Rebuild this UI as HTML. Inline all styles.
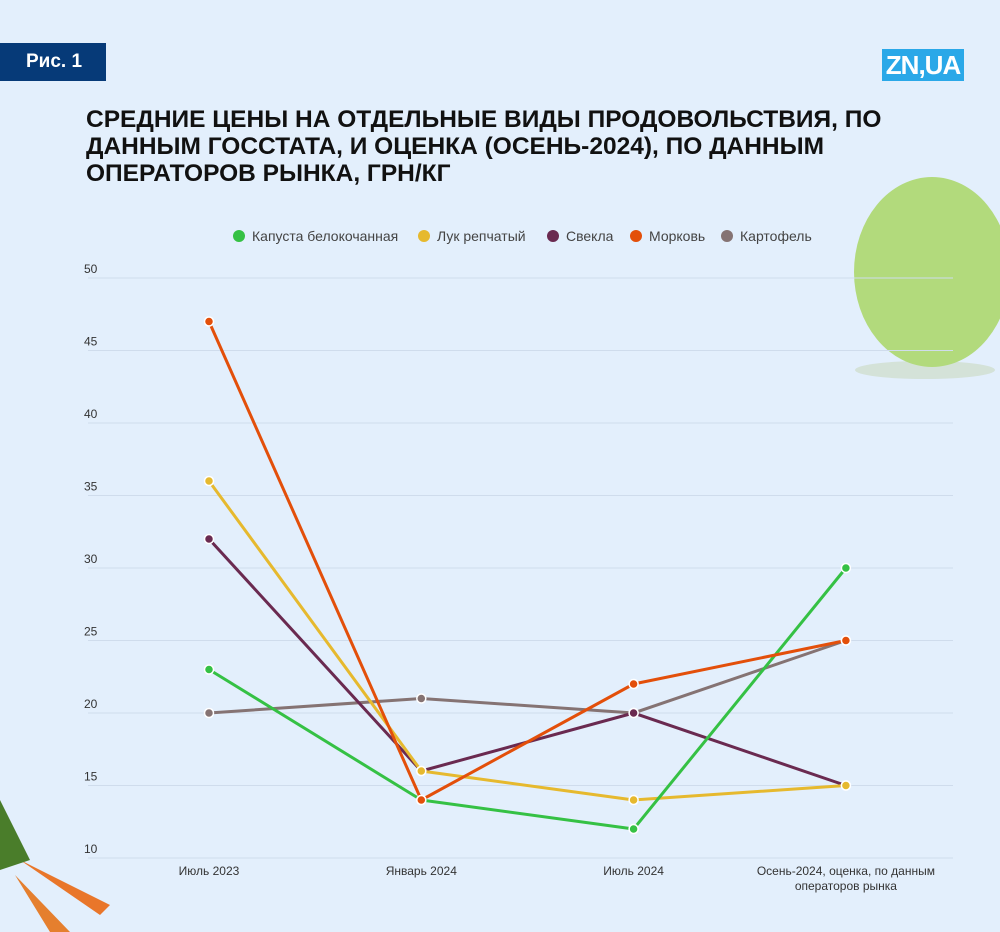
<!DOCTYPE html>
<html><head><meta charset="utf-8"><style>
body{margin:0;background:#e3effc;font-family:"Liberation Sans","DejaVu Sans",sans-serif;}
#wrap{position:relative;width:1000px;height:932px;overflow:hidden;background:#e3effc;}
.badge{position:absolute;left:0;top:43px;width:106px;height:38px;background:#063a78;color:#fff;font-weight:bold;font-size:19px;line-height:38px;padding-left:26px;box-sizing:border-box;}
.logo{position:absolute;left:882px;top:49px;width:82px;height:32px;background:#2aa8e8;color:#fff;font-weight:bold;font-size:26px;line-height:32px;text-align:center;letter-spacing:-1px;}
.title{position:absolute;left:86px;top:106px;width:830px;font-weight:bold;font-size:24.5px;line-height:27px;color:#111;}
</style></head><body>
<div id="wrap">
<div class="badge">Рис. 1</div>
<div class="logo">ZN,UA</div>
<div class="title">СРЕДНИЕ ЦЕНЫ НА ОТДЕЛЬНЫЕ ВИДЫ ПРОДОВОЛЬСТВИЯ, ПО ДАННЫМ ГОССТАТА, И ОЦЕНКА (ОСЕНЬ-2024), ПО ДАННЫМ ОПЕРАТОРОВ РЫНКА, ГРН/КГ</div>
<svg id="chart" width="1000" height="932" style="position:absolute;left:0;top:0">
<ellipse cx="925" cy="370" rx="70" ry="9" fill="#c9d8c0" opacity="0.6"/>
<ellipse cx="932" cy="272" rx="78" ry="95" fill="#b2da7c"/>
<g><path d="M20 860 L110 905 L100 915 Z" fill="#e9762a"/><path d="M15 875 L70 932 L50 932 Z" fill="#e57f2e"/><path d="M0 800 L30 860 L0 870 Z" fill="#4a7d2a"/></g>
</svg>
</div>
<script>
const categories=["Июль 2023","Январь 2024","Июль 2024","Осень-2024, оценка, по данным|операторов рынка"];
const seriesNames=["Капуста белокочанная","Лук репчатый","Свекла","Морковь","Картофель"];
const cabbage=[23,14,12,30];
const onion=[36,16,14,15];
const beet=[32,16,20,15];
const carrot=[47,14,22,25];
const potato=[20,21,20,25];
const yTicks=[10,15,20,25,30,35,40,45,50];
const colors=["#35c144","#e6b92e","#6a2a50","#e34f0a","#857373"];
const series=[cabbage,onion,beet,carrot,potato];
const NS="http://www.w3.org/2000/svg";
const svg=document.getElementById('chart');
const y=v=>858-(v-10)*14.5;
const x=i=>209+i*212.3;
function mk(t,a,p){const e=document.createElementNS(NS,t);for(const k in a)e.setAttribute(k,a[k]);(p||svg).appendChild(e);return e;}
yTicks.forEach(t=>{
 const l=mk('line',{x1:88,x2:953,y1:y(t),y2:y(t),stroke:'#cfdcec','stroke-width':1});
 
 
 const tx=mk('text',{x:84,y:y(t)-5,'font-size':12,fill:'#333'});tx.textContent=t;
 
 
});
categories.forEach((c,i)=>{
 c.split('|').forEach((ln,j)=>{
  const tx=mk('text',{x:x(i),y:875+j*15,'font-size':12,fill:'#333','text-anchor':'middle'});tx.textContent=ln;
  
  
 });
});
const order=[4,2,1,0,3];
order.forEach(s=>{
 const d=series[s].map((v,i)=>(i?'L':'M')+x(i)+' '+y(v)).join(' ');
 const p=mk('path',{d:d,fill:'none',stroke:colors[s],'stroke-width':3,'stroke-linejoin':'round'});
 
 
});
order.forEach(s=>{
 series[s].forEach((v,i)=>{
  const c=mk('circle',{cx:x(i),cy:y(v),r:4.5,fill:colors[s],stroke:'#fff','stroke-width':1.5});
  
  
 });
});
const lx=[233,418,547,630,721];
seriesNames.forEach((n,i)=>{
 const g=mk('g',{});
 
 
 mk('circle',{cx:lx[i]+6,cy:236,r:6,fill:colors[i]},g);
 const t=mk('text',{x:lx[i]+19,y:241,'font-size':14,fill:'#444'},g);t.textContent=n;
});
</script>
</body></html>
